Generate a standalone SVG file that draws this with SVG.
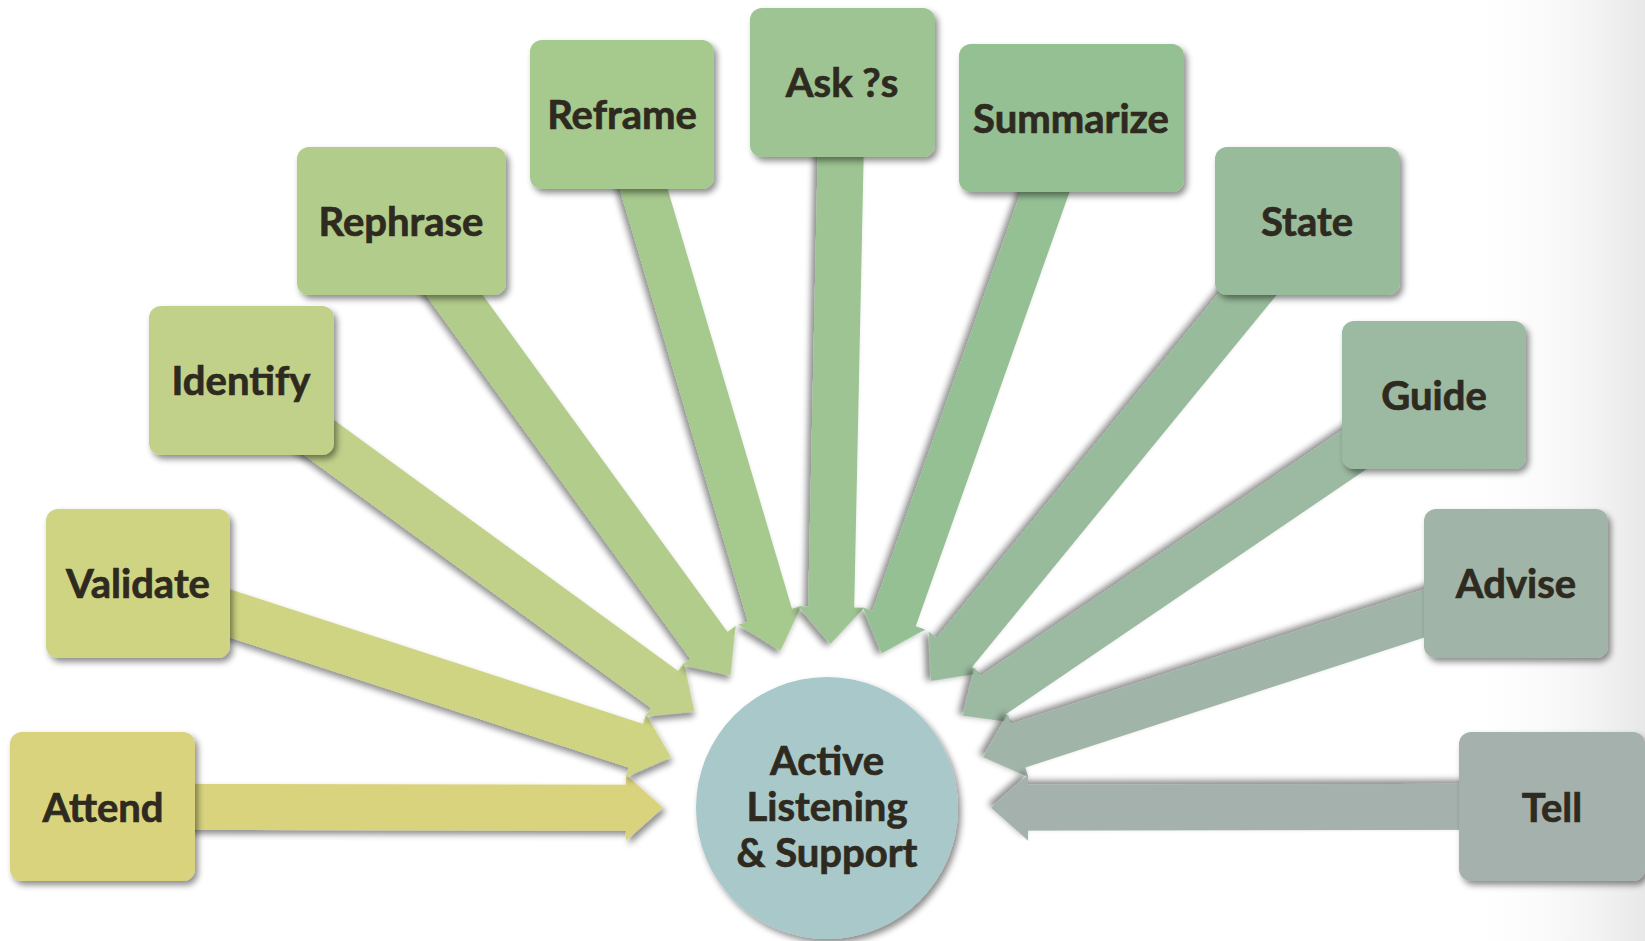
<svg xmlns="http://www.w3.org/2000/svg" xmlns:xlink="http://www.w3.org/1999/xlink" width="1645" height="941" viewBox="0 0 1645 941">
<defs>
<linearGradient id="bgfade" x1="0" y1="0" x2="1" y2="0">
<stop offset="0" stop-color="#ffffff" stop-opacity="0"/>
<stop offset="1" stop-color="#e8e8e8" stop-opacity="1"/>
</linearGradient>
<filter id="sh" x="-20%" y="-20%" width="140%" height="140%">
<feDropShadow dx="3" dy="4" stdDeviation="3" flood-color="#000" flood-opacity="0.45"/>
</filter>
<path id="arr" d="M -700 -23 L -201 -23 L -201 -33 L -164 0 L -201 33 L -201 23 L -700 23 Z"/>
</defs>
<style>
.box{filter:url(#sh);}
.lbl{font-family:Lato,"Open Sans","Liberation Sans",sans-serif;font-weight:bold;font-size:40px;fill:#2e2a20;stroke:#2e2a20;stroke-width:0.7px;text-anchor:middle;}
.con use{filter:url(#sh);}
</style>
<rect x="0" y="0" width="1645" height="941" fill="#ffffff"/>
<rect x="1460" y="0" width="185" height="941" fill="url(#bgfade)"/>
<g id="connectors" class="con">
<use href="#arr" transform="translate(827,808) rotate(0.1)" fill="#d9d37e"/>
<use href="#arr" transform="translate(827,808) rotate(18.05)" fill="#ced482"/>
<use href="#arr" transform="translate(827,808) rotate(36.1)" fill="#c1d18a"/>
<use href="#arr" transform="translate(827,808) rotate(54)" fill="#b2cc8b"/>
<use href="#arr" transform="translate(827,808) rotate(73.5)" fill="#a6c98e"/>
<use href="#arr" transform="translate(827,808) rotate(91.2)" fill="#9dc492"/>
<use href="#arr" transform="translate(827,808) rotate(109.5)" fill="#95c094"/>
<use href="#arr" transform="translate(827,808) rotate(129.3)" fill="#98bc9b"/>
<use href="#arr" transform="translate(827,808) rotate(145.8)" fill="#9cb9a2"/>
<use href="#arr" transform="translate(827,808) rotate(161.95)" fill="#a0b5a8"/>
<use href="#arr" transform="translate(827,808) rotate(179.9)" fill="#a5b1ac"/>
</g>
<g id="attend"><rect class="box" x="10" y="732" width="185" height="149" rx="12" fill="#d9d37e"/><text class="lbl" x="103" y="822">Attend</text></g>
<g id="validate"><rect class="box" x="46" y="509" width="184" height="149" rx="12" fill="#ced482"/><text class="lbl" x="138" y="598">Validate</text></g>
<g id="identify"><rect class="box" x="149" y="306" width="185" height="149" rx="12" fill="#c1d18a"/><text class="lbl" x="241" y="395">Identify</text></g>
<g id="rephrase"><rect class="box" x="297" y="147" width="209" height="148" rx="12" fill="#b2cc8b"/><text class="lbl" x="401" y="236">Rephrase</text></g>
<g id="reframe"><rect class="box" x="530" y="40" width="184" height="149" rx="12" fill="#a6c98e"/><text class="lbl" x="622" y="129">Reframe</text></g>
<g id="askqs"><rect class="box" x="750" y="8" width="185" height="149" rx="12" fill="#9dc492"/><text class="lbl" x="842" y="97">Ask ?s</text></g>
<g id="summarize"><rect class="box" x="959" y="44" width="225" height="148" rx="12" fill="#95c094"/><text class="lbl" x="1071" y="133">Summarize</text></g>
<g id="state"><rect class="box" x="1215" y="147" width="185" height="148" rx="12" fill="#98bc9b"/><text class="lbl" x="1307" y="236">State</text></g>
<g id="guide"><rect class="box" x="1342" y="321" width="184" height="148" rx="12" fill="#9cb9a2"/><text class="lbl" x="1434" y="410">Guide</text></g>
<g id="advise"><rect class="box" x="1424" y="509" width="184" height="149" rx="12" fill="#a0b5a8"/><text class="lbl" x="1516" y="598">Advise</text></g>
<g id="tell"><rect class="box" x="1459" y="732" width="186" height="149" rx="12" fill="#a5b1ac"/><text class="lbl" x="1552" y="822">Tell</text></g>
<g id="center"><circle class="box" cx="827" cy="808" r="131" fill="#a9c8c9"/>
<text class="lbl" x="827" y="775">Active</text>
<text class="lbl" x="827" y="821">Listening</text>
<text class="lbl" x="827" y="867">&amp; Support</text>
</g>
</svg>
